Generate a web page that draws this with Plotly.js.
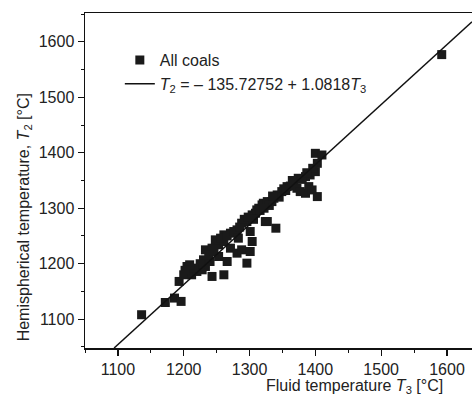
<!DOCTYPE html>
<html>
<head>
<meta charset="utf-8">
<script src="https://cdn.plot.ly/plotly-3.0.1.min.js"></script>
<style>html,body{margin:0;padding:0;background:#fff;overflow:hidden}</style>
</head>
<body>
<div id="chart" style="width:472px;height:398px"></div>
<script>
// Fluid temperature T3 (°C)
const fluidT3 = [1136,1172,1186,1196,1193,1200,1205,1212,1220,1228,1233,1230,1235,1233,1240,1243,1243,1253,1253,1261,1261,1261,1266,1271,1271,1281,1281,1288,1288,1296,1296,1301,1304,1304,1301,1309,1311,1314,1319,1321,1324,1327,1327,1334,1337,1340,1342,1349,1357,1367,1372,1374,1377,1385,1385,1390,1392,1395,1400,1403,1400,1410,1403,1592,1248,1256,1266,1276,1285,1292,1298,1316,1330,1345,1352,1362,1380,1396,1238,1225,1215,1209,1246,1202,1322,1335,1355,1365,1387,1306,1283];
// Hemispherical temperature T2 (°C)
const hemiT2 = [1108,1130,1138,1132,1168,1180,1195,1180,1186,1189,1195,1207,1204,1225,1204,1228,1177,1234,1213,1240,1252,1180,1204,1255,1228,1261,1219,1273,1225,1276,1201,1222,1240,1288,1258,1291,1297,1300,1306,1309,1276,1312,1276,1312,1318,1264,1324,1330,1339,1345,1336,1354,1330,1357,1327,1339,1360,1333,1366,1381,1399,1396,1321,1577,1243,1246,1250,1258,1266,1280,1284,1296,1305,1320,1335,1340,1352,1372,1215,1200,1192,1198,1222,1188,1300,1322,1332,1350,1364,1280,1246];
// Regression: T2 = intercept + slope * T3
const intercept = -135.72752;
const slope = 1.0818;
const xRange = [1050, 1638];
const yRange = [1048, 1652];
const xTickVals = [1100,1200,1300,1400,1500,1600];
const yTickVals = [1100,1200,1300,1400,1500,1600];

const fitX = [(yRange[0] - intercept) / slope, xRange[1]];
const fitY = fitX.map(x => intercept + slope * x);

const font = "'Liberation Sans', Arial, sans-serif";

const traces = [
  {
    x: fluidT3, y: hemiT2, type: 'scatter', mode: 'markers',
    name: 'All coals',
    marker: {symbol: 'square', size: 9, color: '#1a1a1a'},
    cliponaxis: true
  },
  {
    x: fitX, y: fitY, type: 'scatter', mode: 'lines',
    name: '<i>T</i><sub>2</sub> = – 135.72752 + 1.0818<i>T</i><sub>3</sub>',
    line: {color: '#111', width: 1.5}
  }
];

const layout = {
  width: 472, height: 398,
  margin: {l: 85, r: 0, t: 13, b: 50},
  paper_bgcolor: '#fff', plot_bgcolor: '#fff',
  font: {family: font, size: 16, color: '#222'},
  showlegend: true,
  legend: {
    x: 0.09, y: 0.91, xanchor: 'left', yanchor: 'top',
    bgcolor: 'rgba(0,0,0,0)', borderwidth: 0,
    font: {family: font, size: 16, color: '#222'},
    tracegroupgap: 0
  },
  xaxis: {
    range: xRange, tickvals: xTickVals, ticktext: xTickVals.map(String),
    showgrid: false, zeroline: false,
    showline: true, linecolor: '#111', linewidth: 1.5, mirror: true,
    ticks: 'outside', ticklen: 6, tickwidth: 1.2, tickcolor: '#111',
    minor: {dtick: 50, tick0: 1050, ticks: 'outside', ticklen: 3, tickwidth: 1, tickcolor: '#111'},
    tickfont: {family: font, size: 16, color: '#222'}
  },
  yaxis: {
    range: yRange, tickvals: yTickVals, ticktext: yTickVals.map(String),
    showgrid: false, zeroline: false,
    showline: true, linecolor: '#111', linewidth: 1.5, mirror: false,
    ticks: 'outside', ticklen: 6, tickwidth: 1.2, tickcolor: '#111',
    minor: {dtick: 50, tick0: 1050, ticks: 'outside', ticklen: 3, tickwidth: 1, tickcolor: '#111'},
    tickfont: {family: font, size: 16, color: '#222'}
  },
  annotations: [
    {
      text: 'Fluid temperature <i>T</i><sub>3</sub> [°C]',
      xref: 'paper', yref: 'paper', x: 0.93, y: 0, xanchor: 'right', yanchor: 'top',
      yshift: -27, showarrow: false, font: {family: font, size: 16, color: '#222'}
    },
    {
      text: 'Hemispherical temperature, <i>T</i><sub>2</sub> [°C]',
      xref: 'paper', yref: 'paper', x: 0, y: 0.39, xanchor: 'center', yanchor: 'middle',
      xshift: -61, textangle: -90, showarrow: false, font: {family: font, size: 16, color: '#222'}
    }
  ]
};

Plotly.newPlot('chart', traces, layout, {displayModeBar: false, staticPlot: true});
</script>
</body>
</html>
